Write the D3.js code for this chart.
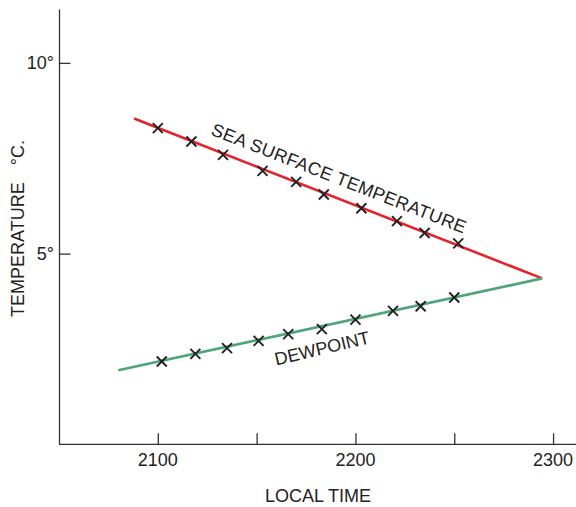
<!DOCTYPE html>
<html>
<head>
<meta charset="utf-8">
<script src="https://cdn.jsdelivr.net/npm/d3@7"></script>
<style>
  html, body { margin: 0; padding: 0; background: #fff; }
  svg { display: block; }
  text { font-family: "Liberation Sans", Arial, Helvetica, sans-serif; fill: #222; }
</style>
</head>
<body>
<svg id="chart" width="576" height="507"></svg>
<script>
// Observed readings (local time as HHMM, temperature in °C)
const sstTimes = [2100, 2117, 2133, 2153, 2170, 2184, 2203, 2221, 2235, 2252];
const sstTemps = [8.29, 7.94, 7.59, 7.17, 6.88, 6.55, 6.19, 5.85, 5.54, 5.27];
const dewTimes = [2102, 2119, 2135, 2151, 2166, 2183, 2200, 2219, 2233, 2250];
const dewTemps = [2.17, 2.37, 2.52, 2.71, 2.89, 3.02, 3.27, 3.50, 3.62, 3.85];

// Fitted trend lines, converging where fog is expected
const sstLineTimes = [2088, 2294.5];
const sstLineTemps = [8.54, 4.35];
const dewLineTimes = [2080, 2294.5];
const dewLineTemps = [1.94, 4.35];

// Axis ticks
const xTicks = [2100, 2150, 2200, 2250, 2300];
const xTickLabels = ["2100", "", "2200", "", "2300"];
const yTicks = [5, 10];
const yTickLabels = ["5°", "10°"];

const svg = d3.select("#chart");

const x = d3.scaleLinear().domain([2050, 2311.6]).range([59, 576]);
const y = d3.scaleLinear().domain([0, 11.4]).range([444.3, 9.5]);

const axisColor = "#333";

// x axis with inward ticks
const xAxis = svg.append("g").attr("transform", `translate(0,${y(0)})`)
  .call(d3.axisBottom(x).tickValues(xTicks).tickSize(-11).tickFormat(() => ""));
xAxis.select(".domain").attr("stroke", axisColor).attr("stroke-width", 1.3).attr("d", `M${x.range()[0]},0H${x.range()[1]}`);
xAxis.selectAll(".tick line").attr("stroke", axisColor).attr("stroke-width", 1.3);

svg.append("g").selectAll("text").data(xTicks).join("text")
  .attr("x", d => x(d)).attr("y", y(0) + 22)
  .attr("text-anchor", "middle").attr("font-size", 18)
  .text((d, i) => xTickLabels[i]);

// y axis with inward ticks
const yAxis = svg.append("g").attr("transform", `translate(${x(2050) + 0.5},0)`)
  .call(d3.axisLeft(y).tickValues(yTicks).tickSize(-11).tickFormat(() => ""));
yAxis.select(".domain").attr("stroke", axisColor).attr("stroke-width", 1.3).attr("d", `M0,${y.range()[1]}V${y.range()[0]}`);
yAxis.selectAll(".tick line").attr("stroke", axisColor).attr("stroke-width", 1.3);

svg.append("g").selectAll("text").data(yTicks).join("text")
  .attr("x", 54).attr("y", d => y(d))
  .attr("dy", "0.36em")
  .attr("text-anchor", "end").attr("font-size", 18)
  .text((d, i) => yTickLabels[i]);

// Axis titles
svg.append("text")
  .attr("x", 318).attr("y", 502)
  .attr("text-anchor", "middle").attr("font-size", 18)
  .text("LOCAL TIME");

const yTitle = svg.append("text")
  .attr("transform", "translate(24,317) rotate(-90)")
  .attr("text-anchor", "start").attr("font-size", 18);
yTitle.append("tspan").text("TEMPERATURE");
yTitle.append("tspan").attr("dx", 17).text("°C.");

// Trend lines
const line = d3.line().x(d => x(d[0])).y(d => y(d[1]));
svg.append("path")
  .datum(d3.zip(sstLineTimes, sstLineTemps))
  .attr("d", line).attr("fill", "none")
  .attr("stroke", "#e6222a").attr("stroke-width", 2.6);
svg.append("path")
  .datum(d3.zip(dewLineTimes, dewLineTemps))
  .attr("d", line).attr("fill", "none")
  .attr("stroke", "#4ea57a").attr("stroke-width", 2.6);

// Observation markers
function crosses(times, temps) {
  const s = 5;
  svg.append("g").selectAll("path").data(d3.zip(times, temps)).join("path")
    .attr("d", d => {
      const cx = x(d[0]), cy = y(d[1]);
      return `M${cx - s},${cy - s}L${cx + s},${cy + s}M${cx - s},${cy + s}L${cx + s},${cy - s}`;
    })
    .attr("stroke", "#222").attr("stroke-width", 1.9).attr("fill", "none");
}
crosses(sstTimes, sstTemps);
crosses(dewTimes, dewTemps);

// Series labels laid along their lines
function angleOf(ts, vs) {
  const dx = x(ts[1]) - x(ts[0]);
  const dy = y(vs[1]) - y(vs[0]);
  return Math.atan2(dy, dx) * 180 / Math.PI;
}
const sstAngle = angleOf(sstLineTimes, sstLineTemps);
svg.append("text")
  .attr("transform", `translate(339,178) rotate(${sstAngle})`)
  .attr("text-anchor", "middle").attr("dy", "0.36em")
  .attr("font-size", 18).attr("textLength", 272).attr("lengthAdjust", "spacing")
  .text("SEA SURFACE TEMPERATURE");

const dewAngle = angleOf(dewLineTimes, dewLineTemps);
svg.append("text")
  .attr("transform", `translate(322,348) rotate(${dewAngle - 1})`)
  .attr("text-anchor", "middle").attr("dy", "0.36em")
  .attr("font-size", 18)
  .text("DEWPOINT");
</script>
</body>
</html>
